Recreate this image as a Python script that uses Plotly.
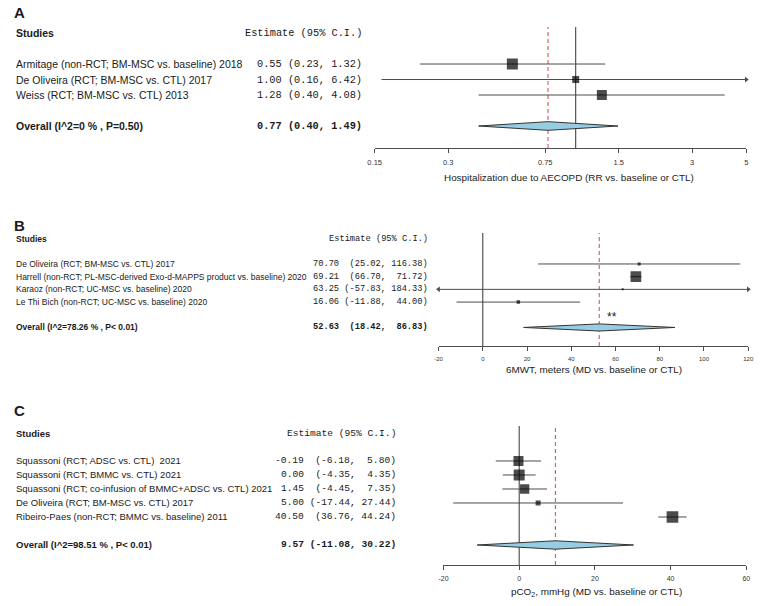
import math
import plotly.graph_objects as go

# ---------------- data ----------------
A_studies = ["Armitage (non-RCT; BM-MSC vs. baseline) 2018",
             "De Oliveira (RCT; BM-MSC vs. CTL) 2017",
             "Weiss (RCT; BM-MSC vs. CTL) 2013"]
A_est = [0.55, 1.00, 1.28]
A_lo = [0.23, 0.16, 0.40]
A_hi = [1.32, 6.42, 4.08]
A_weight = [45, 18, 37]
A_overall_label = "Overall (I^2=0 % , P=0.50)"
A_pooled = [0.77, 0.40, 1.49]
A_ticks = [0.15, 0.3, 0.75, 1.5, 3, 5]
A_xtitle = "Hospitalization due to AECOPD (RR vs. baseline or CTL)"

B_studies = ["De Oliveira (RCT; BM-MSC vs. CTL) 2017",
             "Harrell (non-RCT; PL-MSC-derived Exo-d-MAPPS product vs. baseline) 2020",
             "Karaoz (non-RCT; UC-MSC vs. baseline) 2020",
             "Le Thi Bich (non-RCT; UC-MSC vs. baseline) 2020"]
B_est = [70.70, 69.21, 63.25, 16.06]
B_lo = [25.02, 66.70, -57.83, -11.88]
B_hi = [116.38, 71.72, 184.33, 44.00]
B_weight = [6.6, 82.6, 2.9, 8.7]
B_overall_label = "Overall (I^2=78.26 % , P&lt; 0.01)"
B_pooled = [52.63, 18.42, 86.83]
B_ticks = [-20, 0, 20, 40, 60, 80, 100, 120]
B_xtitle = "6MWT, meters (MD vs. baseline or CTL)"

C_studies = ["Squassoni (RCT; ADSC vs. CTL)\u00a0 2021",
             "Squassoni (RCT; BMMC vs. CTL) 2021",
             "Squassoni (RCT; co-infusion of BMMC+ADSC vs. CTL) 2021",
             "De Oliveira (RCT; BM-MSC vs. CTL) 2017",
             "Ribeiro-Paes (non-RCT; BMMC vs. baseline) 2011"]
C_est = [-0.19, 0.00, 1.45, 5.00, 40.50]
C_lo = [-6.18, -4.35, -4.45, -17.44, 36.76]
C_hi = [5.80, 4.35, 7.35, 27.44, 44.24]
C_weight = [21.3, 25.8, 18.4, 5.3, 29.2]
C_overall_label = "Overall (I^2=98.51 % , P&lt; 0.01)"
C_pooled = [9.57, -11.08, 30.22]
C_ticks = [-20, 0, 20, 40, 60]
C_xtitle = "pCO<sub>2</sub>, mmHg (MD vs. baseline or CTL)"

# ---------------- layout helpers ----------------
W, H = 768, 606
def px(x):
    return x / W
def py(y):
    return 1 - y / H

TXT = "#1a1a1a"
LINE = "#4d4d4d"
SANS = "Liberation Sans, Arial, sans-serif"
MONO = "Liberation Mono, Courier New, monospace"

panels = [
    dict(letter="A", studies=A_studies, est=A_est, lo=A_lo, hi=A_hi, w=A_weight,
         olab=A_overall_label, pooled=A_pooled, ticks=A_ticks, xtitle=A_xtitle, log=True,
         null=1, xdom=(374, 752), ydom=(27, 148), yr=(-6.42, 1.39),
         name_fs=10.5, est_fs=10.3, est_right=363, tick_fs=7.5, smax=11, dh=0.28,
         title_x=572, title_y=177, letter_y=13, title_fs=9.9),
    dict(letter="B", studies=B_studies, est=B_est, lo=B_lo, hi=B_hi, w=B_weight,
         olab=B_overall_label, pooled=B_pooled, ticks=B_ticks, xtitle=B_xtitle, log=False,
         null=0, xdom=(439, 754), ydom=(233, 346), yr=(-7.46, 1.44),
         name_fs=8.5, est_fs=8.7, est_right=430, tick_fs=6, smax=10.7, dh=0.28,
         title_x=597, title_y=369, letter_y=226, title_fs=9.9),
    dict(letter="C", studies=C_studies, est=C_est, lo=C_lo, hi=C_hi, w=C_weight,
         olab=C_overall_label, pooled=C_pooled, ticks=C_ticks, xtitle=C_xtitle, log=False,
         null=0, xdom=(444, 752), ydom=(426, 565), yr=(-8.43, 1.5),
         name_fs=9.5, est_fs=9.6, est_right=398, tick_fs=7, smax=11.7, dh=0.3,
         title_x=600, title_y=592, letter_y=410, title_fs=9.9),
]

NB = "\u00a0"

def est_strings(est, lo, hi):
    lo_s = [f"({v:.2f}," for v in lo]
    hi_s = [f"{v:.2f})" for v in hi]
    lw = max(len(s) for s in lo_s) + 1
    hw = max(len(s) for s in hi_s) + 1
    out = []
    for e, l, h in zip(est, lo_s, hi_s):
        out.append((f"{e:.2f}" + l.rjust(lw) + h.rjust(hw)).replace(" ", NB))
    return out

fig = go.Figure()
annotations = []
layout_axes = {}

for i, p in enumerate(panels):
    sfx = "" if i == 0 else str(i + 1)
    xa, ya = "x" + sfx, "y" + sfx
    n = len(p["studies"])
    rows = [-(k + 1) for k in range(n)]
    orow = -(n + 2)
    hrow = 1
    xmin, xmax = p["ticks"][0], p["ticks"][-1]
    def axv(v, log=p["log"]):
        return math.log10(v) if log else v

    # axes
    layout_axes["xaxis" + sfx] = dict(
        domain=[px(p["xdom"][0]), px(p["xdom"][1])], anchor=ya,
        type="log" if p["log"] else "linear",
        range=[axv(xmin), axv(xmax)],
        tickmode="array", tickvals=p["ticks"], ticktext=[str(t) for t in p["ticks"]],
        showline=True, linecolor=LINE, linewidth=1, ticks="outside", ticklen=4,
        tickcolor=LINE, tickwidth=1, ticklabelstandoff=3,
        tickfont=dict(family=SANS, size=p["tick_fs"], color="#333"),
        showgrid=False, zeroline=False, fixedrange=True)
    layout_axes["yaxis" + sfx] = dict(
        domain=[py(p["ydom"][1]), py(p["ydom"][0])], anchor=xa,
        range=list(p["yr"]), visible=False, fixedrange=True)

    # null line and pooled dashed line
    fig.add_trace(go.Scatter(x=[p["null"], p["null"]], y=[p["yr"][0], p["yr"][1]],
                             mode="lines", line=dict(color="#333", width=1),
                             xaxis=xa, yaxis=ya, showlegend=False, hoverinfo="skip"))
    fig.add_trace(go.Scatter(x=[p["pooled"][0], p["pooled"][0]], y=[p["yr"][0], p["yr"][1]],
                             mode="lines", line=dict(color="#d9454a", width=1, dash="4px,3px"),
                             xaxis=xa, yaxis=ya, showlegend=False, hoverinfo="skip"))

    # CI lines (clipped to the axis range, arrowheads where clipped)
    lx, ly = [], []
    ax_x, ax_y, ax_sym = [], [], []
    for r, lo, hi in zip(rows, p["lo"], p["hi"]):
        lx += [max(lo, xmin), min(hi, xmax), None]
        ly += [r, r, None]
        if hi > xmax:
            ax_x.append(xmax); ax_y.append(r); ax_sym.append("triangle-right")
        if lo < xmin:
            ax_x.append(xmin); ax_y.append(r); ax_sym.append("triangle-left")
    fig.add_trace(go.Scatter(x=lx, y=ly, mode="lines", line=dict(color=LINE, width=1),
                             xaxis=xa, yaxis=ya, showlegend=False, hoverinfo="skip"))
    if ax_x:
        fig.add_trace(go.Scatter(x=ax_x, y=ax_y, mode="markers",
                                 marker=dict(symbol=ax_sym, size=5, color=LINE,
                                             line=dict(width=0)),
                                 cliponaxis=False,
                                 xaxis=xa, yaxis=ya, showlegend=False, hoverinfo="skip"))

    # squares sized by weight
    wmax = max(p["w"])
    sizes = [p["smax"] * math.sqrt(w / wmax) for w in p["w"]]
    fig.add_trace(go.Scatter(x=p["est"], y=rows, mode="markers",
                             marker=dict(symbol="square", size=sizes, color="black",
                                         line=dict(width=0)),
                             xaxis=xa, yaxis=ya, showlegend=False, hoverinfo="skip"))

    # pooled diamond
    pe, pl, ph = p["pooled"]
    dh = p["dh"]
    fig.add_trace(go.Scatter(x=[pl, pe, ph, pe, pl], y=[orow, orow + dh, orow, orow - dh, orow],
                             mode="lines", fill="toself", fillcolor="#96CDE2",
                             line=dict(color="#333", width=1),
                             xaxis=xa, yaxis=ya, showlegend=False, hoverinfo="skip"))

    # texts
    annotations.append(dict(x=px(12.5), y=py(p["letter_y"]), xref="paper", yref="paper",
                            text=f"<b>{p['letter']}</b>", showarrow=False, xanchor="center",
                            yanchor="middle", font=dict(family=SANS, size=15, color=TXT)))
    annotations.append(dict(x=px(7), y=hrow, xref="paper", yref=ya, text="<b>Studies</b>",
                            showarrow=False, xanchor="left", yanchor="middle",
                            font=dict(family=SANS, size=p["name_fs"], color=TXT)))
    annotations.append(dict(x=px(p["est_right"]), y=hrow, xref="paper", yref=ya,
                            text="Estimate (95% C.I.)".replace(" ", NB),
                            showarrow=False, xanchor="right", yanchor="middle",
                            font=dict(family=MONO, size=p["est_fs"], color=TXT)))
    estr = est_strings(p["est"] + [pe], p["lo"] + [pl], p["hi"] + [ph])
    for r, name, s in zip(rows, p["studies"], estr[:-1]):
        annotations.append(dict(x=px(7), y=r, xref="paper", yref=ya, text=name,
                                showarrow=False, xanchor="left", yanchor="middle",
                                font=dict(family=SANS, size=p["name_fs"], color=TXT)))
        annotations.append(dict(x=px(p["est_right"]), y=r, xref="paper", yref=ya, text=s,
                                showarrow=False, xanchor="right", yanchor="middle",
                                font=dict(family=MONO, size=p["est_fs"], color=TXT)))
    annotations.append(dict(x=px(7), y=orow, xref="paper", yref=ya, text=f"<b>{p['olab']}</b>",
                            showarrow=False, xanchor="left", yanchor="middle",
                            font=dict(family=SANS, size=p["name_fs"], color=TXT)))
    annotations.append(dict(x=px(p["est_right"]), y=orow, xref="paper", yref=ya,
                            text=f"<b>{estr[-1]}</b>", showarrow=False, xanchor="right",
                            yanchor="middle",
                            font=dict(family=MONO, size=p["est_fs"], color=TXT)))
    annotations.append(dict(x=px(p["title_x"]), y=py(p["title_y"]), xref="paper", yref="paper",
                            text=p["xtitle"], showarrow=False, xanchor="center",
                            yanchor="middle",
                            font=dict(family=SANS, size=p["title_fs"], color=TXT)))
    if p["letter"] == "B":
        annotations.append(dict(x=58.5, y=orow + 0.85, xref=xa, yref=ya, text="**",
                                showarrow=False, xanchor="center", yanchor="middle",
                                font=dict(family=SANS, size=12, color=TXT)))

fig.update_layout(width=W, height=H, autosize=False,
                  margin=dict(l=0, r=0, t=0, b=0),
                  paper_bgcolor="white", plot_bgcolor="white",
                  showlegend=False, annotations=annotations, **layout_axes)

fig.write_html("out.html", config={"displayModeBar": False},
               post_script="document.body.style.margin='0';document.body.style.padding='0';")
